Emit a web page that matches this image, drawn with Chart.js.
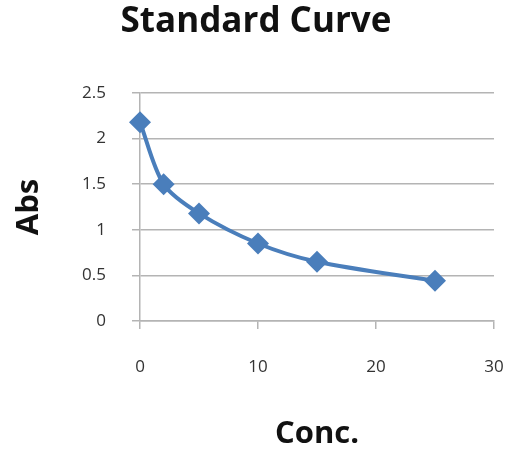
<!DOCTYPE html>
<html>
<head>
<meta charset="utf-8">
<title>Standard Curve</title>
<script src="https://cdn.jsdelivr.net/npm/chart.js@4"></script>
<style>
  html, body { margin: 0; padding: 0; background: #fff; }
  #wrap { width: 512px; height: 450px; position: relative; }
</style>
</head>
<body>
<div id="wrap"><canvas id="curve"></canvas></div>
<script>
// Data
const concentrations = [0, 2, 5, 10, 15, 25];
const absorbance = [2.18, 1.5, 1.18, 0.85, 0.65, 0.44];
const xTicks = [0, 10, 20, 30];
const yTicks = [0, 0.5, 1, 1.5, 2, 2.5];

const BLUE = '#4A7EBB';
const GRID = '#b4b4b4';
const TEXT = '#333333';
const FONT = "'Open Sans', 'Noto Sans', sans-serif";

const points = concentrations.map((c, i) => ({ x: c, y: absorbance[i] }));

new Chart(document.getElementById('curve'), {
  type: 'line',
  data: {
    datasets: [
      {
        label: 'Abs',
        data: points,
        borderColor: BLUE,
        backgroundColor: BLUE,
        borderWidth: 4,
        tension: 0.3,
        pointStyle: 'rectRot',
        pointRadius: 11,
        pointHoverRadius: 11,
        pointBorderWidth: 0,
        pointBackgroundColor: BLUE,
        clip: false
      }
    ]
  },
  options: {
    responsive: true,
    maintainAspectRatio: false,
    animation: false,
    layout: { padding: { left: 0, right: 0, top: 0, bottom: 0 } },
    plugins: {
      legend: { display: false },
      tooltip: { enabled: false },
      title: {
        display: true,
        text: 'Standard Curve',
        color: '#111',
        font: { family: FONT, size: 35, weight: 'bold' },
        padding: { top: 1, bottom: 50 }
      }
    },
    scales: {
      x: {
        type: 'linear',
        min: xTicks[0],
        max: xTicks[xTicks.length - 1],
        afterBuildTicks: (scale) => { scale.ticks = xTicks.map((v) => ({ value: v })); },
        afterFit: (scale) => {
          scale.height = 129;
          // tick padding would otherwise widen the right margin
          scale.paddingLeft = 0;
          scale.paddingRight = 18;
        },
        grid: { drawOnChartArea: false, tickLength: 8, color: GRID, lineWidth: 1.5 },
        border: { display: true, color: GRID, width: 1.5 },
        ticks: { color: TEXT, padding: 28, font: { family: FONT, size: 17 } },
        title: {
          display: true,
          text: 'Conc.',
          color: '#111',
          font: { family: FONT, size: 31, weight: 'bold', lineHeight: 1 },
          padding: { top: 0, bottom: 0 }
        }
      },
      y: {
        min: yTicks[0],
        max: yTicks[yTicks.length - 1],
        afterBuildTicks: (scale) => { scale.ticks = yTicks.map((v) => ({ value: v })); },
        afterFit: (scale) => { scale.width = 140; },
        grid: { color: GRID, lineWidth: 1.5, tickLength: 8 },
        border: { display: true, color: GRID, width: 1.5 },
        ticks: {
          color: TEXT,
          padding: 26,
          font: { family: FONT, size: 17 },
          callback: (v) => String(v)
        },
        title: {
          display: true,
          text: 'Abs',
          color: '#111',
          font: { family: FONT, size: 31, weight: 'bold', lineHeight: 1 },
          padding: { top: 14, bottom: 0 }
        }
      }
    }
  }
});
</script>
</body>
</html>
